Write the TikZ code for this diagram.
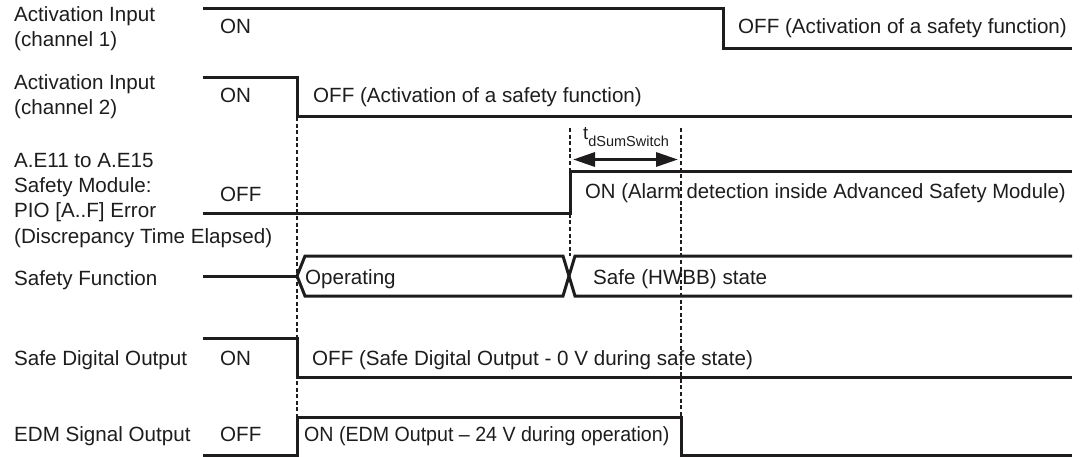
\documentclass[tikz,border=0pt]{standalone}
\usepackage{fontspec}
\setmainfont{Liberation Sans}
\usetikzlibrary{arrows.meta}
\definecolor{ink}{RGB}{30,28,29}
\tikzset{
  lbl/.style={anchor=base west, inner sep=0pt, text=ink, font=\fontsize{20.6}{25}\selectfont},
  sig/.style={draw=ink, line width=3pt, line join=miter},
  guide/.style={draw=ink, line width=2.8pt, dash pattern=on 4pt off 2.6pt},
  span/.style={draw=ink, line width=3.2pt, {Triangle[length=22pt,width=14pt]}-{Triangle[length=22pt,width=14pt]}}
}
\begin{document}
\begin{tikzpicture}[x=1pt,y=-1pt]
\useasboundingbox (0,0) rectangle (1089,457);
% guide lines
\draw[guide] (297,117) -- (297,417);
\draw[guide] (570,128) -- (570,256);
\draw[guide] (681,128) -- (681,417);
% left labels
\node[lbl] (l1a) at (14,22) {Activation Input};
\node[lbl] (l1b) at (14,47) {(channel 1)};
\node[lbl] (l2a) at (14,90) {Activation Input};
\node[lbl] (l2b) at (14,115) {(channel 2)};
\node[lbl] (l3a) at (14,168) {A.E11 to A.E15};
\node[lbl] (l3b) at (14,193) {Safety Module:};
\node[lbl] (l3c) at (14,218) {PIO [A..F] Error};
\node[lbl] (l3d) at (14,243) {(Discrepancy Time Elapsed)};
\node[lbl] (l4) at (14,285) {Safety Function};
\node[lbl] (l5) at (14,365) {Safe Digital Output};
\node[lbl] (l6) at (14,441) {EDM Signal Output};
% state labels
\node[lbl] (s1a) at (220,34) {ON};
\node[lbl] (s1b) at (738,34) {OFF (Activation of a safety function)};
\node[lbl] (s2a) at (220,103) {ON};
\node[lbl] (s2b) at (313,103) {OFF (Activation of a safety function)};
\node[lbl] (s3a) at (220,201) {OFF};
\node[lbl] (s3b) at (585,199) {\scalebox{0.985}[1]{ON (Alarm detection inside Advanced Safety Module)}};
\node[lbl] (s4a) at (305,284) {Operating};
\node[lbl] (s4b) at (593,284) {Safe (HWBB) state};
\node[lbl] (s5a) at (220,365) {ON};
\node[lbl] (s5b) at (312,365) {OFF (Safe Digital Output - 0 V during safe state)};
\node[lbl] (s6a) at (220,441) {OFF};
\node[lbl] (s6b) at (304,441) {\scalebox{0.952}[1]{ON (EDM Output – 24 V during operation)}};
% signals
\draw[sig] (203,9) -- (723,9) -- (723,49) -- (1072,49);
\draw[sig] (203,78) -- (297,78) -- (297,117) -- (1072,117);
\draw[sig] (203,213) -- (570,213) -- (570,172) -- (1072,172);
\draw[sig] (203,276) -- (297,276);
\draw[sig] (297,276) -- (305,256) -- (563,256) -- (575,296) -- (1072,296);
\draw[sig] (297,276) -- (305,296) -- (563,296) -- (575,256) -- (1072,256);
\draw[sig] (203,338) -- (297,338) -- (297,377) -- (1072,377);
\draw[sig] (203,455) -- (297,455) -- (297,417) -- (681,417) -- (681,455) -- (1072,455);
% time span
\coordinate (ta) at (573,159.5);
\coordinate (tb) at (678,159.5);
\draw[span] (ta) -- (tb);
\node[lbl, font=\fontsize{18.6}{20}\selectfont] (tlab) at (583,140) {t\raisebox{-6.5pt}{\fontsize{14.5}{16}\selectfont dSumSwitch}};
\end{tikzpicture}
\end{document}
